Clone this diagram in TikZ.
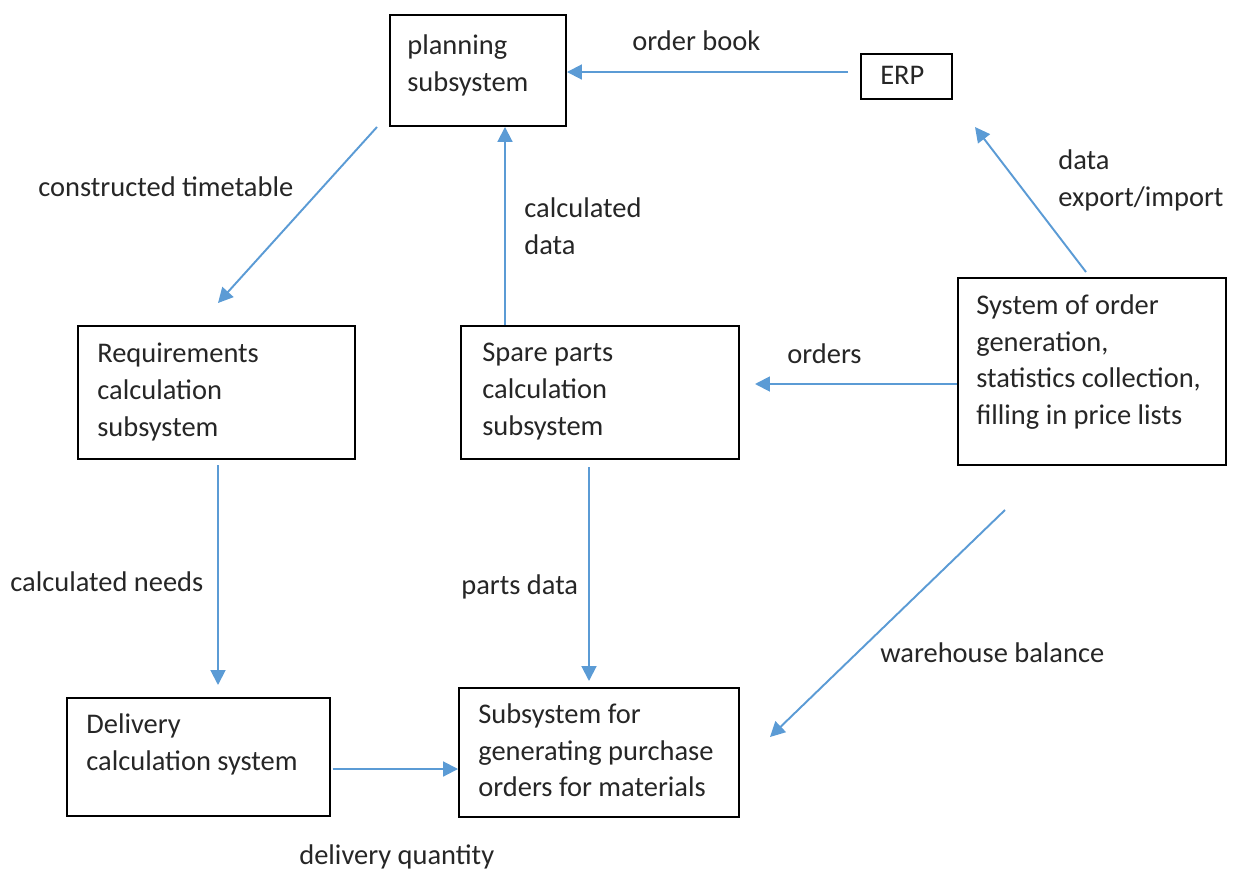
\documentclass[tikz,border=0pt]{standalone}
\usepackage{fontspec}
\setmainfont{Carlito}
\usetikzlibrary{arrows.meta,fit}
\definecolor{arrblue}{RGB}{91,155,213}
\begin{document}
\begin{tikzpicture}[x=0.02cm,y=-0.02cm,
  box/.style={draw=black, line width=1.1pt, inner sep=0pt},
  txt/.style={anchor=north west, inner sep=0pt, align=left, font=\fontsize{16.2}{21}\selectfont, text=black!85},
  arr/.style={draw=arrblue, line width=1.1pt, -{Triangle[length=8.5pt,width=8.5pt]}}]
\useasboundingbox (0,0) rectangle (1238,869);
% boxes
\node[box, fit={(390,15) (566,126)}] (plan) {};
\node[box, fit={(861,54) (952,99)}] (erp) {};
\node[box, fit={(78,326) (355,459)}] (req) {};
\node[box, fit={(461,326) (739,459)}] (spare) {};
\node[box, fit={(958,278) (1226,465)}] (sys) {};
\node[box, fit={(67,698) (330,816)}] (deliv) {};
\node[box, fit={(459,688) (739,817)}] (purch) {};
% box texts
\node[txt] (planT) at (407,34) {planning\\subsystem};
\node[txt] (erpT) at (880,66) {ERP};
\node[txt] (reqT) at (97,343) {Requirements\\calculation\\subsystem};
\node[txt] (spareT) at (482,343) {Spare parts\\calculation\\subsystem};
\node[txt] (sysT) at (976,294) {System of order\\generation,\\statistics collection,\\filling in price lists};
\node[txt] (delT) at (86,713) {Delivery\\calculation system};
\node[txt] (purT) at (478,703) {Subsystem for\\generating purchase\\orders for materials};
% labels
\node[txt] (l1) at (632,30) {order book};
\node[txt] (l2) at (38,176) {constructed timetable};
\node[txt] (l3) at (524,197) {calculated\\data};
\node[txt] (l4) at (1058,149) {data\\export/import};
\node[txt] (l5) at (787,343) {orders};
\node[txt] (l6) at (10,571) {calculated needs};
\node[txt] (l7) at (461,574) {parts data};
\node[txt] (l8) at (880,642) {warehouse balance};
\node[txt] (l9) at (299,844) {delivery quantity};
% connector ends
\coordinate (erpOut) at (848,72);
\coordinate (planOut) at (377,127);
\coordinate (reqIn) at (218,303);
\coordinate (spareX) at (505,0);
\coordinate (sysOut) at (1086,272);
\coordinate (erpIn) at (975,127);
\coordinate (sysY) at (0,384);
\coordinate (spareIn) at (755,384);
\coordinate (reqOut) at (218,465);
\coordinate (delIn) at (218,685);
\coordinate (spareOut) at (589,467);
\coordinate (purIn) at (589,681);
\coordinate (whOut) at (1005,510);
\coordinate (whIn) at (770,737);
\coordinate (delY) at (0,769);
% connectors
\draw[arr] (erpOut) -- (plan.east |- erpOut);
\draw[arr] (planOut) -- (reqIn);
\draw[arr] (spare.north -| spareX) -- (plan.south -| spareX);
\draw[arr] (sysOut) -- (erpIn);
\draw[arr] (sys.west |- sysY) -- (spareIn);
\draw[arr] (reqOut) -- (delIn);
\draw[arr] (spareOut) -- (purIn);
\draw[arr] (whOut) -- (whIn);
\draw[arr] ([xshift=1pt]deliv.east |- delY) -- (purch.west |- delY);
\end{tikzpicture}
\end{document}
